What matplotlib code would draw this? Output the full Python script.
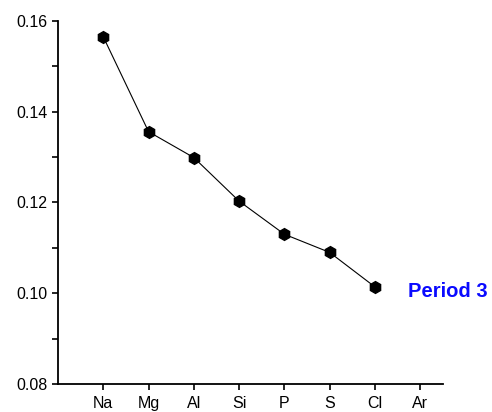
import matplotlib
matplotlib.use('Agg')
import matplotlib.pyplot as plt
from matplotlib.ticker import MultipleLocator

plt.rcParams['font.family'] = ['Liberation Sans', 'DejaVu Sans']

# atomic radius, period 3
elements = ['Na', 'Mg', 'Al', 'Si', 'P', 'S', 'Cl', 'Ar']
radius = [0.1565, 0.1356, 0.1299, 0.1203, 0.1130, 0.1090, 0.1014]

fig = plt.figure(figsize=(4.92, 4.12), dpi=100)
ax = fig.add_axes([0.118, 0.068, 0.782, 0.881])

x = list(range(1, len(radius) + 1))
ax.plot(x, radius, color='black', lw=0.8, marker='h', ms=8.5,
        mfc='black', mec='black')
ax.text(7.73, 0.1003, 'Period 3', color='#0a0aff', fontsize=14.5,
        fontweight='bold', va='center', ha='left')

ax.set_xlim(0, 8.5)
ax.set_ylim(0.08, 0.16)
ax.set_xticks(range(1, len(elements) + 1))
ax.set_xticklabels(elements)
ax.yaxis.set_major_locator(MultipleLocator(0.02))
ax.yaxis.set_minor_locator(MultipleLocator(0.01))
ax.yaxis.set_major_formatter(matplotlib.ticker.FormatStrFormatter('%.2f'))

for s in ['top', 'right']:
    ax.spines[s].set_visible(False)
for s in ['left', 'bottom']:
    ax.spines[s].set_linewidth(1.3)
ax.tick_params(which='both', direction='out', length=4, width=1.2,
               labelsize=11.5)
ax.tick_params(axis='x', pad=5)

fig.savefig('out.png', dpi=100)
